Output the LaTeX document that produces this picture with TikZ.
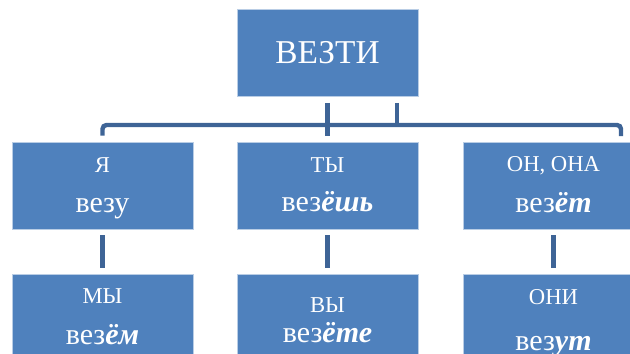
\documentclass[tikz,border=0pt]{standalone}
\usepackage{fontspec}
\setmainfont{Liberation Serif}
\usetikzlibrary{positioning, calc}
\definecolor{boxblue}{HTML}{4F81BD}
\definecolor{boxedge}{HTML}{B9CDE5}
\definecolor{linkblue}{HTML}{3E6496}
\newcommand{\formline}[1]{{\fontsize{22.5}{31}\selectfont #1}}
\newcommand{\suffixform}[1]{\textbf{\textit{#1}}}
% two lines, each raised from the middle of the box
\newcommand{\verbtext}[4]{%
    \makebox[0pt]{\raisebox{#1}[0pt][0pt]{#2}}%
    \makebox[0pt]{\raisebox{#3}[0pt][0pt]{\formline{#4}}}}
\tikzset{
    verb/.style={rectangle, fill=boxblue, draw=boxedge, line width=0.6pt,
        minimum width=135.75pt, minimum height=65.25pt, inner sep=0pt,
        text=white, font=\fontsize{17}{20}\selectfont},
    link/.style={draw=linkblue, line width=3.3pt, rounded corners=3pt}
}

\begin{document}
\begin{tikzpicture}[x=0.75pt, y=-0.75pt]
    \useasboundingbox (0, 0) rectangle (630, 353);
    \clip (0, 0) rectangle (630, 353);

    \node[verb, font=\fontsize{25}{30}\selectfont] (vezti) at (327.5, 53) {ВЕЗТИ};

    \node[verb] (ya) at (102.5, 185.5) {\verbtext{10.1pt}{Я}{-20.6pt}{везу}};
    \node[verb] (ty) at (327.5, 185.5) {\verbtext{9.6pt}{ТЫ}{-19.8pt}{вез\suffixform{ёшь}}};
    \node[verb] (on) at (553.5, 185.5) {\verbtext{10.3pt}{ОН, ОНА}{-20.4pt}{вез\suffixform{ёт}}};

    \node[verb] (my) at (102.5, 317.5) {\verbtext{10.6pt}{МЫ}{-20.6pt}{вез\suffixform{ём}}};
    \node[verb] (vy) at (327.5, 317.5) {\verbtext{4.1pt}{ВЫ}{-18.4pt}{вез\suffixform{ёте}}};
    \node[verb] (oni) at (553.5, 317.5) {\verbtext{9.4pt}{ОНИ}{-24.4pt}{вез\suffixform{ут}}};

    \coordinate (bus) at (0, 125);
    \coordinate (drop) at (621, 142);

    \draw[link, shorten >=4.5pt] (vezti.south |- bus) -| (ya.north);
    \draw[link, shorten >=4.5pt] (vezti.south |- bus) -| (drop);
    \draw[link, shorten <=4.5pt, shorten >=4.5pt] (vezti) -- (ty);
    \draw[link, shorten <=4.5pt] ([xshift=52pt]vezti.south) -- ([xshift=52pt]vezti.south |- bus);

    \draw[link, shorten <=4.5pt, shorten >=4.5pt]
        (ya) edge (my)
        (ty) edge (vy)
        (on) edge (oni)
        ;
\end{tikzpicture}
\end{document}
